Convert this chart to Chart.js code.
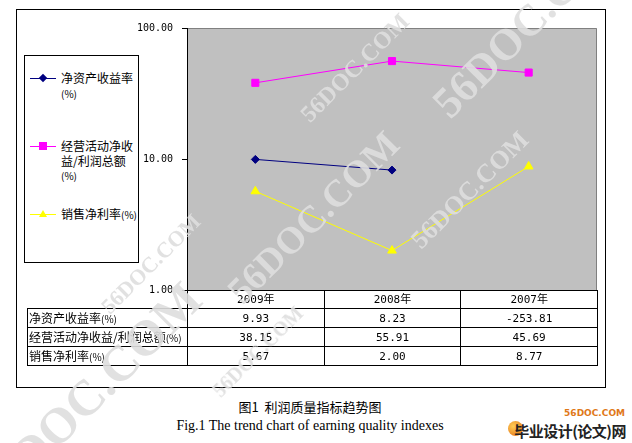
<!DOCTYPE html>
<html lang="zh-CN">
<head>
<meta charset="UTF-8">
<title>利润质量指标趋势图</title>
<script src="https://cdn.jsdelivr.net/npm/chart.js"></script>
<style>
  html, body { margin: 0; padding: 0; background: #fff; }
  body { width: 632px; height: 443px; position: relative; overflow: hidden; font-family: "Noto Sans CJK SC", sans-serif; color: #000; }
  #frame { position: absolute; left: 16px; top: 9px; width: 590px; height: 379px; box-sizing: border-box; border: 1px solid #000; }
  #wrap { position: absolute; left: 15px; top: 10px; width: 590px; height: 292px; }
  #legend { position: absolute; left: 24px; top: 55px; width: 115px; height: 208px; box-sizing: border-box; border: 1px solid #000; background: #fff; font-size: 12px; line-height: 14.5px; }
  .item { position: absolute; left: 5px; width: 108px; }
  .key { position: absolute; left: 0; top: 0; width: 26px; height: 14px; }
  .key .ln { position: absolute; left: 0; right: 0; top: 7px; height: 1px; }
  .key .mk { position: absolute; }
  .txt { position: absolute; left: 31px; width: 77px; }
  .pct { font-size: 10px; }
  #table { position: absolute; border-collapse: collapse; table-layout: fixed; font-size: 12px; }
  #table td { border: 1px solid #000; padding: 0; height: 17px; line-height: 17px; white-space: nowrap; overflow: hidden; }
  #table td.num { text-align: center; font-family: "DejaVu Sans Mono", "Noto Sans CJK SC", monospace; font-size: 11px; }
  #table td.lab { padding-left: 1px; }
  #table td.blank { border: none; }
  .cap { position: absolute; left: 0; width: 620px; text-align: center; }
  #cap1 { top: 397px; font-size: 13px; }
  #cap2 { top: 418px; font-family: "Liberation Serif", serif; font-size: 14px; }
  .wm { position: absolute; font-family: "Liberation Serif", serif; font-weight: bold; color: rgba(222,222,222,0.9); white-space: nowrap; transform: translate(-50%, -50%) rotate(-45deg); }
  #logo1 { position: absolute; right: 7px; top: 408px; font: bold 9px "DejaVu Sans", sans-serif; color: #e07818; }
  #logo2 { position: absolute; right: 6px; top: 420px; font-size: 15px; font-weight: bold; color: #222; letter-spacing: -0.5px; }
  #logoDot { position: absolute; left: 508px; top: 421px; width: 15px; height: 15px; border-radius: 50%; background: radial-gradient(circle at 35% 35%, #ffcc55, #e06a10); }
</style>
</head>
<body>
<div id="frame"></div>
<div id="wrap"><canvas id="chart"></canvas></div>
<div id="legend"></div>
<table id="table"></table>
<div class="cap" id="cap1">图1&nbsp; 利润质量指标趋势图</div>
<div class="cap" id="cap2">Fig.1 The trend chart of earning quality indexes</div>
<div id="logoDot"></div>
<div id="logo1">56DOC.COM</div>
<div id="logo2">毕业设计(论文)网</div>

<script>
  // 数据
  const years = ['2009年', '2008年', '2007年'];
  const seriesNames = ['净资产收益率(%)', '经营活动净收益/利润总额(%)', '销售净利率(%)'];
  const roe = [9.93, 8.23, -253.81];
  const opIncomeRatio = [38.15, 55.91, 45.69];
  const netMargin = [5.67, 2.00, 8.77];
  const yTicks = [1, 10, 100];

  const series = [roe, opIncomeRatio, netMargin];
  const colors = ['#000080', '#ff00ff', '#ffff00'];
  const pointStyles = ['rectRot', 'rect', 'triangle'];
  const pointRadii = [4, 5, 5];

  // 灰色绘图区
  const plotBg = {
    id: 'plotBg',
    beforeDraw(chart) {
      const { ctx, chartArea: a } = chart;
      ctx.save();
      ctx.fillStyle = '#c0c0c0';
      ctx.fillRect(a.left, a.top, a.right - a.left, a.bottom - a.top);
      ctx.strokeStyle = '#808080';
      ctx.lineWidth = 1;
      ctx.beginPath();
      ctx.moveTo(a.left, a.top + 0.5);
      ctx.lineTo(a.right - 0.5, a.top + 0.5);
      ctx.lineTo(a.right - 0.5, a.bottom);
      ctx.stroke();
      ctx.restore();
    }
  };

  const chart = new Chart(document.getElementById('chart'), {
    type: 'line',
    data: {
      labels: years,
      datasets: series.map((d, i) => ({
        label: seriesNames[i],
        // 对数轴无法显示负值
        data: d.map(v => v > 0 ? v : null),
        borderColor: colors[i],
        backgroundColor: colors[i],
        borderWidth: 1,
        pointStyle: pointStyles[i],
        pointRadius: pointRadii[i],
        pointBorderWidth: 1,
        tension: 0,
        spanGaps: false
      }))
    },
    options: {
      responsive: true,
      maintainAspectRatio: false,
      animation: false,
      layout: { padding: { top: 18, right: 8, bottom: 12, left: 0 } },
      plugins: { legend: { display: false }, tooltip: { enabled: false } },
      scales: {
        x: { type: 'category', display: false, offset: true },
        y: {
          type: 'logarithmic',
          min: 1,
          max: 100,
          afterBuildTicks: s => { s.ticks = yTicks.map(v => ({ value: v })); },
          afterFit: s => { s.width = 172; s.paddingTop = 0; s.paddingBottom = 0; },
          ticks: {
            callback: v => Number(v).toFixed(2),
            color: '#000',
            padding: 9,
            font: { family: 'DejaVu Sans Mono', size: 10 }
          },
          grid: { drawOnChartArea: false, tickLength: 5, color: '#000' },
          border: { color: '#000' }
        }
      }
    },
    plugins: [plotBg]
  });

  const pct = s => s.replace('(%)', '<span class="pct">(%)</span>');

  // 图例
  const legend = document.getElementById('legend');
  const legendTops = [15, 83, 151];
  seriesNames.forEach((name, i) => {
    const item = document.createElement('div');
    item.className = 'item';
    item.style.top = legendTops[i] + 'px';
    let mk = '';
    if (pointStyles[i] === 'rectRot') {
      mk = `<div class="mk" style="left:10px;top:4px;width:6px;height:6px;background:${colors[i]};transform:rotate(45deg)"></div>`;
    } else if (pointStyles[i] === 'rect') {
      mk = `<div class="mk" style="left:9px;top:3px;width:8px;height:8px;background:${colors[i]}"></div>`;
    } else {
      mk = `<div class="mk" style="left:9px;top:3px;width:0;height:0;border-left:4px solid transparent;border-right:4px solid transparent;border-bottom:7px solid ${colors[i]}"></div>`;
    }
    item.innerHTML = `<div class="key"><div class="ln" style="background:${colors[i]}"></div>${mk}</div><div class="txt">${pct(name)}</div>`;
    legend.appendChild(item);
  });

  // 数据表，列与分类轴对齐
  const area = chart.chartArea;
  const xs = chart.scales.x;
  const offX = 15, offY = 10;
  const bounds = [area.left];
  for (let i = 0; i < years.length - 1; i++) {
    bounds.push((xs.getPixelForValue(i) + xs.getPixelForValue(i + 1)) / 2);
  }
  bounds.push(area.right);
  const tableLeft = 27;
  const table = document.getElementById('table');
  table.style.left = tableLeft + 'px';
  table.style.top = (area.bottom + offY) + 'px';
  let html = '<colgroup>';
  html += `<col style="width:${bounds[0] + offX - tableLeft}px">`;
  for (let i = 0; i < years.length; i++) html += `<col style="width:${bounds[i + 1] - bounds[i]}px">`;
  html += '</colgroup>';
  html += '<tr><td class="blank"></td>' + years.map(y => `<td class="num">${y}</td>`).join('') + '</tr>';
  series.forEach((d, i) => {
    html += `<tr><td class="lab">${pct(seriesNames[i])}</td>` + d.map(v => `<td class="num">${v.toFixed(2)}</td>`).join('') + '</tr>';
  });
  table.innerHTML = html;

  // 水印
  const marks = [
    [355, 68, 24], [532, 18, 44], [313, 217, 38], [470, 190, 26],
    [151, 264, 22], [88, 395, 50], [258, 352, 20]
  ];
  marks.forEach(([x, y, s]) => {
    const w = document.createElement('div');
    w.className = 'wm';
    w.style.left = x + 'px';
    w.style.top = y + 'px';
    w.style.fontSize = s + 'px';
    w.textContent = '56DOC.COM';
    document.body.appendChild(w);
  });
</script>
</body>
</html>
